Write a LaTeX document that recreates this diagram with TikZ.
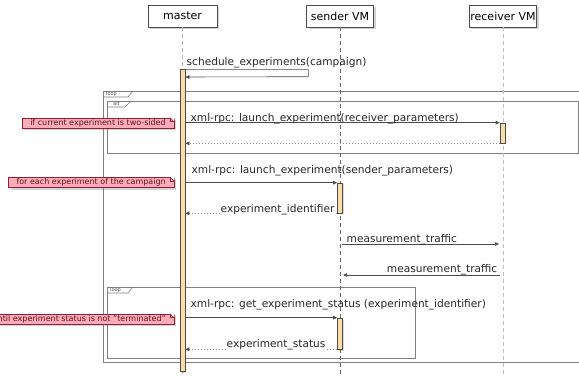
\documentclass[tikz,border=0pt]{standalone}
\usepackage{fontspec}
\setmainfont{DejaVu Sans}
\usetikzlibrary{arrows.meta,shadows}

\definecolor{barfill}{RGB}{251,219,166}
\definecolor{notefill}{RGB}{255,172,186}
\definecolor{noteline}{RGB}{150,30,50}
\definecolor{notetext}{RGB}{90,20,30}

% dog-ear corner on a note node
\newcommand\notefold[1]{%
  \fill[white] ([xshift=-4pt]#1.north east) -- ([xshift=1pt,yshift=1pt]#1.north east) -- ([yshift=-4pt]#1.north east) -- cycle;
  \draw[noteline,line width=.5pt] ([xshift=-4pt]#1.north east) -- ([yshift=-4pt]#1.north east);
  \draw[noteline,line width=.5pt] ([xshift=-4pt]#1.north east) |- ([yshift=-4pt]#1.north east);
}

\tikzset{
  part/.style={draw=black!70,fill=white,line width=.7pt,minimum height=22pt,inner xsep=1pt,
    font=\fontsize{11}{13}\selectfont,
    drop shadow={shadow xshift=2pt,shadow yshift=-2pt,opacity=.35}},
  life/.style={dash pattern=on 4pt off 3pt,line width=.6pt},
  bar/.style={draw=black!70,fill=barfill,line width=.6pt,minimum width=5pt,inner sep=0pt,
    drop shadow={shadow xshift=1pt,shadow yshift=-1.5pt,opacity=.3}},
  msg/.style={draw=black!70,line width=.6pt,-{Triangle[length=4pt,width=3.5pt]}},
  ret/.style={draw=black!45,line width=.6pt,dash pattern=on 1pt off 2pt,
    -{Triangle[length=4pt,width=3.5pt,color=black!70]}},
  lbl/.style={anchor=west,inner sep=.5pt,text=black!85},
  frame/.style={draw=black!50,line width=.6pt},
  tab/.style={anchor=west,inner sep=0pt,font=\fontsize{5}{6}\selectfont,text=black!70},
  note/.style={fill=notefill,draw=noteline,line width=.5pt,anchor=east,inner xsep=8pt,inner ysep=1.2pt,
    font=\fontsize{8}{9}\selectfont,text=notetext,
    drop shadow={shadow xshift=2pt,shadow yshift=-2pt,opacity=.35}}
}

\begin{document}
\begin{tikzpicture}[x=1pt,y=-1pt,font=\fontsize{10.6}{12}\selectfont]
  \useasboundingbox (0,0) rectangle (579,377);
  \coordinate (bottom) at (0,377);

  % loop / alt frames
  \draw[frame] (103,91) rectangle (582,362);
  \draw[frame] (103,97) -- (128,97) -- (133,91);
  \node[tab] (loopOuter) at (106,94) {loop};
  \draw[frame] (107,101) rectangle (578,153);
  \draw[frame] (107,107) -- (125,107) -- (131,101);
  \node[tab] (altFrame) at (113,104) {alt};
  \draw[frame] (107,287) rectangle (415,358);
  \draw[frame] (107,293) -- (128,293) -- (133,287);
  \node[tab] (loopInner) at (110,290) {loop};

  % participants and lifelines
  \node[part,minimum width=69pt] (master) at (182.5,16) {master};
  \node[part,minimum width=67pt] (sender) at (340,16) {sender VM};
  \node[part,minimum width=67pt] (receiver) at (503,16) {receiver VM};
  \draw[life,black!30] (master.south) -- (master |- bottom);
  \draw[life,black!60] (sender.south) -- (sender |- bottom);
  \draw[life,black!25] (receiver.south) -- (receiver |- bottom);

  % activations
  \node[bar,minimum height=302pt] (mbar) at (182.5,220) {};
  \node[bar,minimum height=20pt] (rbar) at (502.5,133) {};
  \node[bar,minimum height=30pt] (sbarA) at (340,198) {};
  \node[bar,minimum height=31pt] (sbarB) at (340,333.5) {};

  % messages
  \coordinate (trafficOut) at (0,244);
  \coordinate (trafficIn) at (0,275);
  \draw[msg] ([yshift=-1pt]mbar.north east) -- ++(123,0) -- ++(0,7) -- (mbar.east |- 0,77);
  \node[lbl] (schedule) at (186,63) {schedule\_experiments(campaign)};

  \draw[msg] (mbar.east |- rbar.north) -- (rbar.north west);
  \node[lbl] (launchRecv) at (190,119) {xml-rpc: launch\_experiment(receiver\_parameters)};
  \draw[ret] (rbar.south west) -- (mbar.east |- rbar.south);

  \draw[msg] (mbar.east |- sbarA.north) -- (sbarA.north west);
  \node[lbl] (launchSend) at (191,171) {xml-rpc: launch\_experiment(sender\_parameters)};
  \draw[ret] (sbarA.south west) -- (mbar.east |- sbarA.south);
  \node[lbl,fill=white] (expId) at (220,210) {experiment\_identifier};

  \draw[msg] ([xshift=2pt]sender |- trafficOut) -- ([xshift=-4pt]receiver |- trafficOut);
  \node[lbl] (trafficA) at (346,240) {measurement\_traffic};
  \draw[msg] ([xshift=-3pt]receiver |- trafficIn) -- ([xshift=3pt]sender |- trafficIn);
  \node[lbl,anchor=east] (trafficB) at (498,270) {measurement\_traffic};

  \draw[msg] (mbar.east |- sbarB.north) -- (sbarB.north west);
  \node[lbl] (getStatus) at (190,305) {xml-rpc: get\_experiment\_status (experiment\_identifier)};
  \draw[ret] (sbarB.south west) -- (mbar.east |- sbarB.south);
  \node[lbl,fill=white] (expStatus) at (226,345) {experiment\_status};

  % notes
  \node[note] (noteAlt) at (174,123) {if current experiment is two-sided};
  \notefold{noteAlt}
  \node[note] (noteEach) at (174,182.5) {for each experiment of the campaign};
  \notefold{noteEach}
  \node[note] (noteUntil) at (174,319) {until experiment status is not "terminated"};
  \notefold{noteUntil}
\end{tikzpicture}
\end{document}
